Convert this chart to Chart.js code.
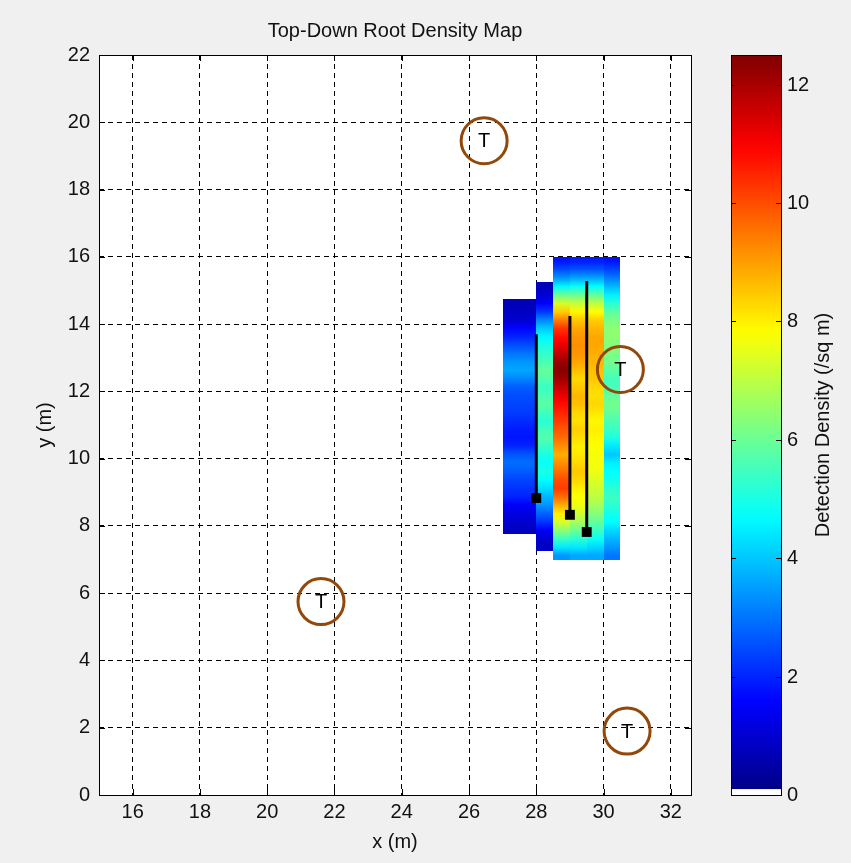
<!DOCTYPE html>
<html>
<head>
<meta charset="utf-8">
<title>Top-Down Root Density Map</title>
<script src="https://cdn.jsdelivr.net/npm/chart.js@4.4.0/dist/chart.umd.min.js"></script>
<style>
    body { margin: 0; background: #f0f0f0; }
    #area_grafico { width: 851px; height: 863px; }
</style>
</head>
<body>
<div id="area_grafico"><canvas id="grafico" width="851" height="863"></canvas></div>
<script>
var xTicks = [16, 18, 20, 22, 24, 26, 28, 30, 32];
var yTicks = [0, 2, 4, 6, 8, 10, 12, 14, 16, 18, 20, 22];
var cbTicks = [0, 2, 4, 6, 8, 10, 12];
var cbMax = 12.5;

// trees
var treeX = [26.45, 30.5, 21.6, 30.7];
var treeY = [19.45, 12.65, 5.75, 1.9];

// transects: marker at the start (bottom) end
var lineX = [28, 29, 29.5];
var lineYStart = [8.83, 8.33, 7.82];
var lineYEnd = [13.7, 14.24, 15.28];

// density rows, 0.25 m each, listed from the bottom up
var rowStep = 0.25;

var band1X = [27, 28];
var band1Bottom = 7.75;
var band1 = [0.8, 1.0, 1.2, 1.5, 2.0, 2.2, 2.4, 2.7, 2.9, 2.6, 2.0, 1.8, 1.9, 2.1, 2.3, 2.4, 2.5, 2.7, 3.2, 3.6, 3.4, 3.0, 2.5, 2.0, 1.6, 1.0, 0.8, 0.7];

var band2X = [28, 28.5];
var band2Bottom = 7.25;
var band2 = [0.8, 1.0, 1.5, 2.2, 2.8, 3.4, 3.8, 4.3, 4.7, 5.0, 4.8, 5.0, 5.4, 5.7, 5.5, 5.2, 5.5, 5.8, 5.6, 5.4, 5.7, 5.9, 5.6, 5.3, 5.0, 4.6, 4.0, 3.2, 2.2, 1.5, 1.0, 0.7];

var band3X = [28.5, 29, 29.5, 30, 30.5];
var band3Bottom = 7.0;
var band3Col1 = [3.4, 4.4, 5.4, 6.4, 7.3, 8.0, 8.8, 9.6, 10.2, 10.0, 9.6, 9.2, 8.8, 9.2, 9.6, 9.9, 10.2, 10.5, 10.8, 11.2, 11.6, 12.1, 12.4, 12.2, 11.7, 11.2, 10.8, 10.3, 9.4, 8.4, 7.3, 6.0, 4.6, 3.4, 2.5, 1.8];
var band3Col2 = [3.6, 4.4, 5.2, 6.0, 6.7, 7.2, 7.6, 7.8, 8.0, 8.3, 8.5, 8.3, 8.1, 8.0, 8.2, 8.4, 8.2, 8.3, 8.6, 8.7, 8.5, 8.3, 8.6, 8.9, 9.1, 9.2, 9.1, 8.9, 8.5, 7.9, 7.1, 6.0, 4.8, 3.6, 2.6, 1.9];
var band3Col3 = [3.6, 4.2, 4.8, 5.4, 5.9, 6.3, 6.7, 7.0, 7.2, 7.4, 7.6, 7.7, 7.7, 7.8, 7.9, 8.0, 7.9, 8.1, 8.3, 8.2, 8.3, 8.5, 8.6, 8.7, 8.8, 8.9, 8.9, 8.7, 8.4, 7.8, 7.0, 5.9, 4.7, 3.6, 2.6, 1.9];
var band3Col4 = [3.0, 3.4, 3.8, 4.2, 4.7, 4.9, 5.2, 5.4, 5.2, 4.9, 4.7, 4.5, 4.0, 4.4, 5.0, 5.4, 5.6, 5.9, 6.1, 5.9, 5.6, 5.5, 5.8, 6.1, 6.2, 6.3, 6.4, 6.4, 6.2, 5.8, 5.2, 4.5, 3.8, 3.1, 2.4, 1.8];

var fonte = "'Liberation Sans', Arial, sans-serif";
var corTexto = '#111';
Chart.defaults.font.family = fonte;

function clamp01(v) {
    return Math.max(0, Math.min(1, v));
}

function jet(v) {
    if (v < 0.1) return '#ffffff';
    var t = v / cbMax;
    var r = clamp01(1.5 - Math.abs(4 * t - 3));
    var g = clamp01(1.5 - Math.abs(4 * t - 2));
    var b = clamp01(1.5 - Math.abs(4 * t - 1));
    return `rgb(${Math.round(r * 255)}, ${Math.round(g * 255)}, ${Math.round(b * 255)})`;
}

function desenharColuna(ctx, xs, ys, x0, x1, base, valores) {
    var topo = base + valores.length * rowStep;
    var pxTopo = Math.round(ys.getPixelForValue(topo));
    var pxBase = Math.round(ys.getPixelForValue(base));
    var grad = ctx.createLinearGradient(0, pxBase, 0, pxTopo);
    for (var i = 0; i < valores.length; i++) {
        grad.addColorStop((i + 0.5) / valores.length, jet(valores[i]));
    }
    var a = Math.round(xs.getPixelForValue(x0));
    var b = Math.round(xs.getPixelForValue(x1));
    ctx.fillStyle = grad;
    ctx.fillRect(a, pxTopo, b - a, pxBase - pxTopo);
}

var fundoPlugin = {
    id: 'fundo',
    beforeDraw: function (chart) {
        var a = chart.chartArea;
        chart.ctx.save();
        chart.ctx.fillStyle = '#ffffff';
        chart.ctx.fillRect(a.left, a.top, a.right - a.left, a.bottom - a.top);
        chart.ctx.restore();
    }
};

var mapaPlugin = {
    id: 'mapa',
    beforeDatasetsDraw: function (chart) {
        var ctx = chart.ctx;
        var xs = chart.scales.x;
        var ys = chart.scales.y;
        ctx.save();
        desenharColuna(ctx, xs, ys, band1X[0], band1X[1], band1Bottom, band1);
        desenharColuna(ctx, xs, ys, band2X[0], band2X[1], band2Bottom, band2);
        var cols = [band3Col1, band3Col2, band3Col3, band3Col4];
        for (var i = 0; i < cols.length; i++) {
            desenharColuna(ctx, xs, ys, band3X[i], band3X[i + 1], band3Bottom, cols[i]);
        }
        ctx.restore();
    }
};

var arvorePlugin = {
    id: 'arvore',
    afterDatasetsDraw: function (chart) {
        var ctx = chart.ctx;
        var meta = chart.getDatasetMeta(0);
        ctx.save();
        ctx.fillStyle = '#000';
        ctx.font = `20px ${fonte}`;
        ctx.textAlign = 'center';
        ctx.textBaseline = 'middle';
        meta.data.forEach(function (p) {
            ctx.fillText('T', p.x, p.y + 1);
        });
        ctx.restore();
    }
};

var moldura = {
    id: 'moldura',
    afterDraw: function (chart) {
        var ctx = chart.ctx;
        var a = chart.chartArea;
        var xs = chart.scales.x;
        var ys = chart.scales.y;
        ctx.save();
        ctx.strokeStyle = '#000';
        ctx.lineWidth = 1;
        ctx.strokeRect(Math.round(a.left) + 0.5, Math.round(a.top) + 0.5, Math.round(a.right - a.left), Math.round(a.bottom - a.top));
        ctx.beginPath();
        xTicks.forEach(function (v) {
            var px = Math.round(xs.getPixelForValue(v)) + 0.5;
            ctx.moveTo(px, a.bottom); ctx.lineTo(px, a.bottom - 6);
            ctx.moveTo(px, a.top); ctx.lineTo(px, a.top + 6);
        });
        yTicks.forEach(function (v) {
            var py = Math.round(ys.getPixelForValue(v)) + 0.5;
            ctx.moveTo(a.left, py); ctx.lineTo(a.left + 6, py);
            ctx.moveTo(a.right, py); ctx.lineTo(a.right - 6, py);
        });
        ctx.stroke();
        ctx.restore();
    }
};

var barraCores = {
    id: 'barraCores',
    afterDraw: function (chart) {
        var ctx = chart.ctx;
        var cb = chart.scales.cb;
        var esq = Math.round(chart.chartArea.right) + 40;
        var dir = esq + 50;
        var y0 = cb.getPixelForValue(0);
        var y1 = cb.getPixelForValue(cbMax);
        ctx.save();
        var grad = ctx.createLinearGradient(0, y0, 0, y1);
        for (var v = 0.1; v <= cbMax; v += 0.25) {
            grad.addColorStop(v / cbMax, jet(v));
        }
        grad.addColorStop(1, jet(cbMax));
        ctx.fillStyle = grad;
        ctx.fillRect(esq, y1, dir - esq, y0 - y1);
        var yBranco = cb.getPixelForValue(0.1);
        ctx.fillStyle = '#ffffff';
        ctx.fillRect(esq, yBranco, dir - esq, y0 - yBranco);

        ctx.strokeStyle = '#000';
        ctx.lineWidth = 1;
        ctx.strokeRect(esq + 0.5, Math.round(y1) + 0.5, dir - esq, Math.round(y0 - y1));

        ctx.fillStyle = corTexto;
        ctx.font = `20px ${fonte}`;
        ctx.textAlign = 'left';
        ctx.textBaseline = 'middle';
        ctx.beginPath();
        cbTicks.forEach(function (v) {
            var py = Math.round(cb.getPixelForValue(v)) + 0.5;
            if (v > 0) {
                ctx.moveTo(esq, py); ctx.lineTo(esq + 5, py);
                ctx.moveTo(dir, py); ctx.lineTo(dir - 5, py);
            }
            ctx.fillText(String(v), dir + 6, py);
        });
        ctx.stroke();

        ctx.translate(dir + 42, (y0 + y1) / 2);
        ctx.rotate(-Math.PI / 2);
        ctx.textAlign = 'center';
        ctx.fillText('Detection Density (/sq m)', 0, 0);
        ctx.restore();
    }
};

var transectos = [];
for (var i = 0; i < lineX.length; i++) {
    transectos.push({
        type: 'line',
        data: [{ x: lineX[i], y: lineYStart[i] }, { x: lineX[i], y: lineYEnd[i] }],
        borderColor: '#000',
        borderWidth: 3,
        pointStyle: 'rect',
        pointRadius: [7, 0],
        pointBackgroundColor: '#000',
        pointBorderWidth: 0,
        showLine: true
    });
}

var arvores = {
    type: 'scatter',
    data: treeX.map(function (x, j) { return { x: x, y: treeY[j] }; }),
    pointStyle: 'circle',
    pointRadius: 23,
    pointBorderWidth: 3,
    pointBorderColor: 'rgb(145, 72, 10)',
    pointBackgroundColor: 'rgba(0, 0, 0, 0)'
};

var config = {
    type: 'scatter',
    data: { datasets: [arvores].concat(transectos) },
    options: {
        responsive: false,
        animation: false,
        layout: { padding: { left: 0, right: 160, top: 0, bottom: 0 } },
        plugins: {
            legend: { display: false },
            tooltip: { enabled: false },
            title: {
                display: true,
                fullSize: false,
                text: 'Top-Down Root Density Map',
                color: corTexto,
                font: { size: 20, weight: 'normal', family: fonte },
                padding: { top: 19, bottom: 12 }
            }
        },
        scales: {
            x: {
                type: 'linear',
                min: 15,
                max: 32.6,
                z: 1,
                afterBuildTicks: function (s) { s.ticks = xTicks.map(function (v) { return { value: v }; }); },
                afterFit: function (s) { s.height = 68; },
                grid: { color: '#000', lineWidth: 1, drawTicks: false },
                border: { display: false, dash: [5, 4] },
                ticks: { padding: 5, color: corTexto, font: { size: 20 }, maxRotation: 0, autoSkip: false },
                title: { display: true, text: 'x (m)', color: corTexto, font: { size: 20 }, padding: { top: 0, bottom: 9 } }
            },
            y: {
                type: 'linear',
                min: 0,
                max: 22,
                z: 1,
                afterBuildTicks: function (s) { s.ticks = yTicks.map(function (v) { return { value: v }; }); },
                afterFit: function (s) { s.width = 99; },
                grid: { color: '#000', lineWidth: 1, drawTicks: false },
                border: { display: false, dash: [5, 4] },
                ticks: { padding: 9, color: corTexto, font: { size: 20 }, autoSkip: false },
                title: { display: true, text: 'y (m)', color: corTexto, font: { size: 20 }, padding: { top: 33, bottom: 0 } }
            },
            cb: {
                type: 'linear',
                position: 'right',
                min: 0,
                max: cbMax,
                display: false
            }
        }
    },
    plugins: [fundoPlugin, mapaPlugin, arvorePlugin, moldura, barraCores]
};

window.grafico = new Chart(document.getElementById('grafico'), config);
</script>
</body>
</html>
